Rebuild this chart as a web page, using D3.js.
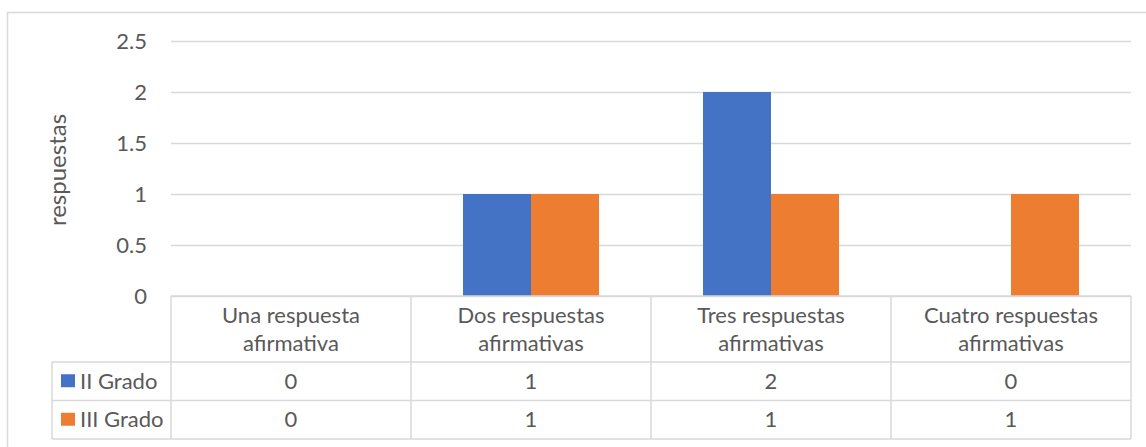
<!DOCTYPE html>
<html>
<head>
<meta charset="utf-8">
<script src="https://cdn.jsdelivr.net/npm/d3@7"></script>
<style>
  html, body { margin: 0; padding: 0; background: #fff; }
  svg { display: block; }
  text { font-family: Lato, "Open Sans", sans-serif; fill: #595959; }
</style>
</head>
<body>
<svg id="chart" width="1146" height="447"></svg>
<script>
const categories = [
  ["Una respuesta", "afirmativa"],
  ["Dos respuestas", "afirmativas"],
  ["Tres respuestas", "afirmativas"],
  ["Cuatro respuestas", "afirmativas"]
];
const seriesNames = ["II Grado", "III Grado"];
const seriesColors = ["#4472C4", "#ED7D31"];
const iiGrado = [0, 1, 2, 0];
const iiiGrado = [0, 1, 1, 1];
const yTicks = [0, 0.5, 1, 1.5, 2, 2.5];
const yTitle = "respuestas";

(function () {
const series = [iiGrado, iiiGrado];
const svg = d3.select("#chart");
const FS = 22;

const pLeft = 171, pRight = 1131, pTop = 41, pBottom = 296;
const rowH = [66, 38.5, 38.5];
const legendLeft = 52;

// outer border
svg.append("rect").attr("x", 7.5).attr("y", 12.5).attr("width", 1150).attr("height", 450)
  .attr("fill", "none").attr("stroke", "#d9d9d9").attr("stroke-width", 1.5);

const y = d3.scaleLinear().domain([0, 2.5]).range([pBottom, pTop]);
const idx = categories.map((d, i) => i);
const xCol = d3.scaleBand().domain(idx).range([pLeft, pRight]).padding(0);
const x0 = d3.scaleBand().domain(idx).range([pLeft, pRight]).paddingInner(0.4333).paddingOuter(0.21667);
const x1 = d3.scaleBand().domain([0, 1]).range([0, x0.bandwidth()]).padding(0);

// gridlines
const yAxis = d3.axisLeft(y).tickValues(yTicks).tickSize(-(pRight - pLeft)).tickPadding(24)
  .tickFormat(d => String(d));
const gy = svg.append("g").attr("transform", `translate(${pLeft},0)`).call(yAxis);
gy.select(".domain").remove();
gy.selectAll(".tick line").attr("stroke", "#d9d9d9").attr("stroke-width", 1.5);
gy.selectAll(".tick text").attr("font-size", FS).attr("fill", "#595959").style("font-family", "Lato");

// bars
series.forEach((vals, s) => {
  svg.append("g").selectAll("rect").data(vals.map((v, i) => ({v, i})).filter(d => d.v > 0))
    .enter().append("rect")
    .attr("x", d => x0(d.i) + x1(s))
    .attr("y", d => y(d.v))
    .attr("width", x1.bandwidth())
    .attr("height", d => y(0) - y(d.v))
    .attr("fill", seriesColors[s]);
});

// y title
svg.append("text").attr("transform", `translate(66,${(pTop + pBottom) / 2 + 1.5}) rotate(-90)`)
  .attr("text-anchor", "middle").attr("font-size", 24).text(yTitle);

// data table
const gridC = "#d9d9d9";
const t = svg.append("g").attr("stroke", gridC).attr("stroke-width", 1.5);
const yH = pBottom, yR1 = pBottom + rowH[0], yR2 = yR1 + rowH[1], yEnd = yR2 + rowH[2];
t.append("line").attr("x1", pLeft).attr("x2", pRight).attr("y1", yH).attr("y2", yH);
[yR1, yR2, yEnd].forEach(yy => t.append("line").attr("x1", legendLeft).attr("x2", pRight).attr("y1", yy).attr("y2", yy));
t.append("line").attr("x1", legendLeft).attr("x2", legendLeft).attr("y1", yR1).attr("y2", yEnd);
idx.concat([4]).forEach(i => {
  const xx = i < 4 ? xCol(i) : pRight;
  t.append("line").attr("x1", xx).attr("x2", xx).attr("y1", yH).attr("y2", yEnd);
});

// header labels
categories.forEach((lines, i) => {
  const cx = xCol(i) + xCol.bandwidth() / 2;
  const txt = svg.append("text").attr("text-anchor", "middle").attr("font-size", FS);
  lines.forEach((l, k) => txt.append("tspan").attr("x", cx).attr("y", yH + 26.5 + k * 28).text(l));
});

// rows
[[yR1, yR2], [yR2, yEnd]].forEach(([a, b], s) => {
  const cy = (a + b) / 2;
  svg.append("rect").attr("x", 61).attr("y", cy - 7).attr("width", 14).attr("height", 13).attr("fill", seriesColors[s]);
  svg.append("text").attr("x", 80).attr("y", cy + 7.5).attr("font-size", FS).text(seriesNames[s]);
  series[s].forEach((v, i) => {
    svg.append("text").attr("x", xCol(i) + xCol.bandwidth() / 2).attr("y", cy + 7.5)
      .attr("text-anchor", "middle").attr("font-size", FS).text(v);
  });
});
})();
</script>
</body>
</html>
